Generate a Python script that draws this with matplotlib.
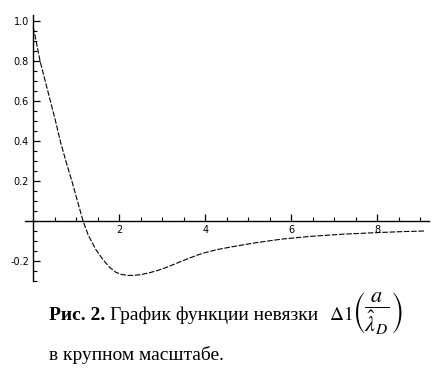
import matplotlib
matplotlib.use('Agg')
import matplotlib.pyplot as plt
from matplotlib.ticker import MultipleLocator

# значения кривой
x_vals = [0, 0.05, 0.16, 0.28, 0.4, 0.52, 0.63, 0.76, 0.9, 1.03, 1.16, 1.28, 1.45, 1.63,
          1.78, 1.92, 2.05, 2.2, 2.35, 2.5, 2.72, 2.9, 3.1, 3.35, 3.58, 3.8, 4.0, 4.3,
          4.65, 5.2, 5.8, 6.5, 7.2, 8.0, 8.6, 9.1]
y_vals = [0.97, 0.92, 0.8, 0.7, 0.6, 0.5, 0.4, 0.3, 0.2, 0.1, 0.0, -0.07, -0.14, -0.195,
          -0.232, -0.256, -0.267, -0.272, -0.272, -0.268, -0.258, -0.247, -0.232, -0.21, -0.19,
          -0.172, -0.158, -0.142, -0.128, -0.108, -0.09, -0.076, -0.066, -0.058, -0.053, -0.05]
x_ticks = [2, 4, 6, 8]
y_ticks = [-0.2, 0.2, 0.4, 0.6, 0.8, 1.0]

plt.rcParams['mathtext.fontset'] = 'stix'

W, H = 434, 370
fig = plt.figure(figsize=(W / 100, H / 100), dpi=100)
ax = fig.add_axes([25 / W, 1 - 285 / H, 405 / W, 273 / H])

ax.plot(x_vals, y_vals, color='black', lw=0.8, linestyle=(0, (5, 1.5)))

ax.set_xlim(-0.19, 9.23)
ax.set_ylim(-0.32, 1.045)

for s in ['top', 'right']:
    ax.spines[s].set_visible(False)
ax.spines['left'].set_position(('data', 0))
ax.spines['bottom'].set_position(('data', 0))
ax.spines['left'].set_bounds(-0.3, 1.03)
ax.spines['bottom'].set_bounds(-0.19, 9.2)
ax.spines['left'].set_linewidth(1.0)
ax.spines['bottom'].set_linewidth(1.0)

ax.set_xticks(x_ticks)
ax.set_xticklabels([str(t) for t in x_ticks])
ax.set_yticks(y_ticks)
ax.set_yticklabels(['%.1f' % t for t in y_ticks])
ax.xaxis.set_minor_locator(MultipleLocator(0.5))
ax.yaxis.set_minor_locator(MultipleLocator(0.05))

ax.tick_params(which='major', direction='in', length=5, width=0.9, labelsize=7, pad=3)
ax.tick_params(which='minor', direction='in', length=3, width=0.8)
ax.tick_params(axis='y', pad=3)

# подпись
serif = 'Liberation Serif'
fs = 14
t1 = fig.text(49 / W, 1 - 320 / H, 'Рис. 2.', fontfamily=serif, fontweight='bold',
              fontsize=fs, va='baseline', ha='left')
fig.canvas.draw()
x_end = t1.get_window_extent().x1
fig.text((x_end + 5) / W, 1 - 320 / H, 'График функции невязки',
         fontfamily=serif, fontsize=fs, va='baseline', ha='left')
fig.text(329 / W, 1 - 320 / H, r'$\Delta 1$', fontsize=fs, va='baseline', ha='left')
fig.text(352 / W, 1 - 313 / H, r'$\left(\dfrac{a}{\hat{\lambda}_D}\right)$',
         fontsize=16, va='center', ha='left')
fig.text(49 / W, 1 - 360 / H, 'в крупном масштабе.', fontfamily=serif,
         fontsize=fs, va='baseline', ha='left')

fig.savefig('out.png', dpi=100)
